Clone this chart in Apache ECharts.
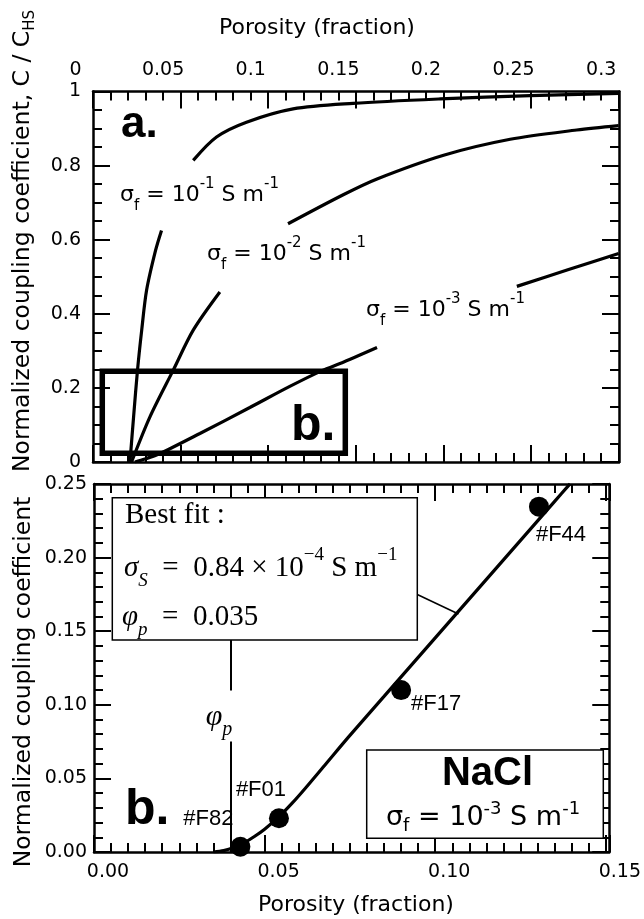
<!DOCTYPE html>
<html><head><meta charset="utf-8">
<script src="https://cdn.jsdelivr.net/npm/echarts@6/dist/echarts.min.js"></script>
<style>html,body{margin:0;padding:0;background:#fff}#c{width:644px;height:919px}</style>
</head><body><div id="c"></div>
<script>
// ---------- Panel a: C/C_HS vs porosity for three fluid conductivities ----------
const topTickLabels = ['0', '0.05', '0.1', '0.15', '0.2', '0.25', '0.3'];
const topYLabels = ['0', '0.2', '0.4', '0.6', '0.8', '1'];
// sigma_f = 1e-1 S/m
const c1LowerX = [0.0311, 0.0332, 0.0354, 0.0378, 0.0406, 0.0457, 0.0491];
const c1LowerY = [0, 0.124, 0.248, 0.356, 0.464, 0.571, 0.625];
const c1UpperX = [0.0672, 0.0805, 0.0976, 0.1242, 0.1584, 0.2082, 0.2595, 0.3100];
const c1UpperY = [0.814, 0.877, 0.917, 0.953, 0.968, 0.980, 0.989, 0.995];
// sigma_f = 1e-2 S/m
const c2LowerX = [0.0320, 0.0425, 0.0558, 0.0672, 0.0824];
const c2LowerY = [0, 0.122, 0.248, 0.356, 0.459];
const c2UpperX = [0.1213, 0.1531, 0.1721, 0.2101, 0.2481, 0.2861, 0.3100];
const c2UpperY = [0.643, 0.722, 0.764, 0.828, 0.871, 0.896, 0.908];
// sigma_f = 1e-3 S/m
const c3LowerX = [0.0339, 0.0396, 0.0482, 0.0710, 0.0995, 0.1223, 0.1404, 0.1531, 0.1721];
const c3LowerY = [0, 0.008, 0.023, 0.077, 0.147, 0.204, 0.246, 0.270, 0.309];
const c3UpperX = [0.2519, 0.2810, 0.3100];
const c3UpperY = [0.474, 0.519, 0.5625];
// region enlarged in panel b
const zoomBoxX = [0.0153, 0.154];
const zoomBoxY = [0.0234, 0.245];

// ---------- Panel b: NaCl, sigma_f = 1e-3 S/m ----------
const bottomTickLabels = ['0.00', '0.05', '0.10', '0.15'];
const bottomYLabels = ['0.00', '0.05', '0.10', '0.15', '0.20', '0.25'];
const fitX = [0.035, 0.038, 0.041, 0.044, 0.047, 0.050, 0.054, 0.058, 0.062, 0.068, 0.075, 0.085, 0.095, 0.105, 0.115, 0.125, 0.135, 0.1395];
const fitY = [0, 0.0009, 0.003, 0.0062, 0.0105, 0.0155, 0.0235, 0.033, 0.0435, 0.060, 0.0792, 0.1057, 0.1322, 0.1587, 0.1852, 0.2117, 0.2382, 0.2501];
const sampleNames = ['#F82', '#F01', '#F17', '#F44'];
const sampleX = [0.0429, 0.0542, 0.0900, 0.1304];
const sampleY = [0.0036, 0.0229, 0.1100, 0.2346];
const phiP = 0.035;

// ---------- helpers ----------
const SANS = 'DejaVu Sans';
const ARIAL = 'Liberation Sans';
const SERIF = 'Liberation Serif';
const zip = (xs, ys) => xs.map((x, i) => [x, ys[i]]);
const labelOffsets = [[-32, -28], [-18, -28], [35, 14], [22, 28]];

function frameAxis(extra) {
  const minor = extra.minorSplit;
  const out = Object.assign({
    type: 'value',
    axisLine: { show: true, onZero: false, lineStyle: { color: '#000', width: 2.5 } },
    axisTick: { show: true, inside: true, length: 17, lineStyle: { color: '#000', width: 2 } },
    minorTick: { show: true, splitNumber: minor, length: 9, lineStyle: { color: '#000', width: 2 } },
    splitLine: { show: false },
    axisLabel: { show: false }
  }, extra);
  delete out.minorSplit;
  return out;
}
const tickFont = { color: '#000', fontFamily: SANS, fontSize: 19 };

function curve(xs, ys, xi, yi) {
  return {
    type: 'line', data: zip(xs, ys), xAxisIndex: xi, yAxisIndex: yi,
    showSymbol: false, symbol: 'none', smooth: 0.3,
    lineStyle: { color: '#000', width: 3.2 }, clip: true, silent: true, z: 3
  };
}

function sigmaRich(F, k) {
  const s = Math.round(F * 0.68);
  return {
    m: { fontSize: F, fontFamily: SANS, lineHeight: Math.round(F * (k || 1.7)), verticalAlign: 'middle', fill: '#000' },
    b: { fontSize: s, fontFamily: SANS, lineHeight: s, verticalAlign: 'bottom', fill: '#000' },
    p: { fontSize: s, fontFamily: SANS, lineHeight: s, verticalAlign: 'top', fill: '#000' }
  };
}
function sigmaText(exp) { return '{m|σ}{b|f}{m| = 10}{p|-' + exp + '}{m| S m}{p|-1}'; }

function serifRich(F) {
  const s = Math.round(F * 0.65);
  return {
    m: { fontSize: F, fontFamily: SERIF, lineHeight: Math.round(F * 1.5), verticalAlign: 'middle', fill: '#000' },
    i: { fontSize: F, fontFamily: SERIF, fontStyle: 'italic', lineHeight: Math.round(F * 1.5), verticalAlign: 'middle', fill: '#000' },
    ib: { fontSize: s, fontFamily: SERIF, fontStyle: 'italic', lineHeight: s, verticalAlign: 'bottom', fill: '#000' },
    p: { fontSize: s, fontFamily: SERIF, lineHeight: s, verticalAlign: 'top', fill: '#000' }
  };
}

function txt(x, y, text, style, extra) {
  return Object.assign({
    type: 'text', x: x, y: y, z: 100, silent: true,
    style: Object.assign({ text: text, fill: '#000', align: 'left', verticalAlign: 'middle', textAlign: 'left', textVerticalAlign: 'middle' }, style)
  }, extra || {});
}

const chart = echarts.init(document.getElementById('c'));

const option = {
  animation: false,
  backgroundColor: '#fff',
  grid: [
    { left: 93, right: 25, top: 91.5, bottom: 457 },
    { left: 94, right: 25, top: 484, bottom: 67 }
  ],
  xAxis: [
    frameAxis({
      gridIndex: 0, position: 'top', min: 0.01, max: 0.3102, interval: 0.05, minorSplit: 5,
      axisLabel: Object.assign({ show: true, margin: 12, padding: [0, 35, 0, 0],
        formatter: v => topTickLabels[Math.round((v - 0.01) / 0.05)] }, tickFont)
    }),
    frameAxis({ gridIndex: 0, position: 'bottom', min: 0.01, max: 0.3102, interval: 0.05, minorSplit: 5 }),
    frameAxis({
      gridIndex: 1, position: 'bottom', min: 0, max: 0.151, interval: 0.05, minorSplit: 10,
      axisLabel: Object.assign({ show: true, margin: 11, padding: [0, 0, 0, 28],
        formatter: v => bottomTickLabels[Math.round(v / 0.05)] }, tickFont)
    }),
    frameAxis({ gridIndex: 1, position: 'top', min: 0, max: 0.151, interval: 0.05, minorSplit: 10 })
  ],
  yAxis: [
    frameAxis({
      gridIndex: 0, position: 'left', min: 0, max: 1, interval: 0.2, minorSplit: 4,
      axisLabel: Object.assign({ show: true, margin: 12, padding: [6, 0, 0, 0],
        formatter: v => topYLabels[Math.round(v / 0.2)] }, tickFont)
    }),
    frameAxis({ gridIndex: 0, position: 'right', min: 0, max: 1, interval: 0.2, minorSplit: 4 }),
    frameAxis({
      gridIndex: 1, position: 'left', min: 0, max: 0.25, interval: 0.05, minorSplit: 5,
      axisLabel: Object.assign({ show: true, margin: 7, padding: [13, 0, 0, 0],
        formatter: v => bottomYLabels[Math.round(v / 0.05)] }, tickFont)
    }),
    frameAxis({ gridIndex: 1, position: 'right', min: 0, max: 0.25, interval: 0.05, minorSplit: 5 })
  ],
  series: [
    curve(c1LowerX, c1LowerY, 0, 0),
    curve(c1UpperX, c1UpperY, 0, 0),
    curve(c2LowerX, c2LowerY, 0, 0),
    curve(c2UpperX, c2UpperY, 0, 0),
    curve(c3LowerX, c3LowerY, 0, 0),
    Object.assign(curve(c3UpperX, c3UpperY, 0, 0), {
      markArea: {
        silent: true,
        itemStyle: { color: 'rgba(0,0,0,0)', borderColor: '#000', borderWidth: 5.5 },
        data: [[{ coord: [zoomBoxX[0], zoomBoxY[0]] }, { coord: [zoomBoxX[1], zoomBoxY[1]] }]]
      }
    }),
    Object.assign(curve(fitX, fitY, 2, 2), {
      markLine: {
        silent: true, symbol: ['none', 'none'], label: { show: false },
        lineStyle: { color: '#000', width: 2, type: 'solid' },
        data: [{ xAxis: phiP }]
      }
    }),
    {
      type: 'scatter', xAxisIndex: 2, yAxisIndex: 2, symbol: 'circle', symbolSize: 20, z: 5,
      itemStyle: { color: '#000', opacity: 1 },
      data: sampleNames.map((n, i) => ({
        name: n, value: [sampleX[i], sampleY[i]],
        label: { show: true, position: 'inside', offset: labelOffsets[i], formatter: n,
          color: '#000', opacity: 1, fontFamily: ARIAL, fontSize: 22, align: 'center', verticalAlign: 'middle' }
      }))
    }
  ],
  graphic: [
    // axis titles
    txt(23, 241, '{m|Normalized coupling coefficient, C / C}{s|HS}', {
      align: 'center', textAlign: 'center',
      rich: {
        m: { fontSize: 23.5, fontFamily: SANS, lineHeight: 30, verticalAlign: 'middle', fill: '#000' },
        s: { fontSize: 15, fontFamily: SANS, lineHeight: 15, verticalAlign: 'bottom', fill: '#000' }
      }
    }, { rotation: Math.PI / 2 }),
    txt(24, 682, 'Normalized coupling coefficient', {
      align: 'center', textAlign: 'center', fontSize: 23.5, fontFamily: SANS
    }, { rotation: Math.PI / 2 }),
    txt(317, 28, 'Porosity (fraction)', { align: 'center', textAlign: 'center', fontSize: 22, fontFamily: SANS }),
    txt(356, 905, 'Porosity (fraction)', { align: 'center', textAlign: 'center', fontSize: 22, fontFamily: SANS }),
    // panel a annotations
    txt(121, 125, 'a.', { fontSize: 44, fontFamily: ARIAL, fontWeight: 'bold' }),
    txt(291, 426, 'b.', { fontSize: 50, fontFamily: ARIAL, fontWeight: 'bold' }),
    txt(120, 195, sigmaText(1), { rich: sigmaRich(22) }),
    txt(207, 254, sigmaText(2), { rich: sigmaRich(22) }),
    txt(366, 310.5, sigmaText(3), { rich: sigmaRich(22) }),
    // panel b annotations
    { type: 'rect', z: 90, silent: true, shape: { x: 112.3, y: 497.7, width: 305, height: 142.3 },
      style: { fill: '#fff', stroke: '#000', lineWidth: 1.5 } },
    txt(125, 515, 'Best fit :', { fontSize: 29, fontFamily: SERIF }),
    txt(124, 568, '{i|σ}{ib|S}{m|  =  0.84 × 10}{p|−4}{m| S m}{p|−1}', { rich: serifRich(29) }),
    txt(122, 617, '{i|φ}{ib|p}{m|  =  0.035}', { rich: serifRich(29) }),
    { type: 'line', z: 90, silent: true, shape: { x1: 417.3, y1: 594.5, x2: 458.5, y2: 614 },
      style: { stroke: '#000', lineWidth: 1.5 } },
    txt(219, 716, '{i|φ}{ib|p}', { align: 'center', textAlign: 'center', rich: serifRich(30),
      backgroundColor: '#fff', padding: [4, 3, 2, 3] }),
    { type: 'rect', z: 90, silent: true, shape: { x: 366.7, y: 750, width: 236.6, height: 88.3 },
      style: { fill: '#fff', stroke: '#000', lineWidth: 1.5 } },
    txt(487.5, 774, 'NaCl', { align: 'center', textAlign: 'center', fontSize: 40, lineHeight: 40, fontFamily: ARIAL, fontWeight: 'bold' }),
    txt(386, 818, sigmaText(3), { rich: sigmaRich(27, 1.3) }),
    txt(125, 810, 'b.', { fontSize: 50, fontFamily: ARIAL, fontWeight: 'bold' })
  ]
};
chart.setOption(option);
</script>
</body></html>
